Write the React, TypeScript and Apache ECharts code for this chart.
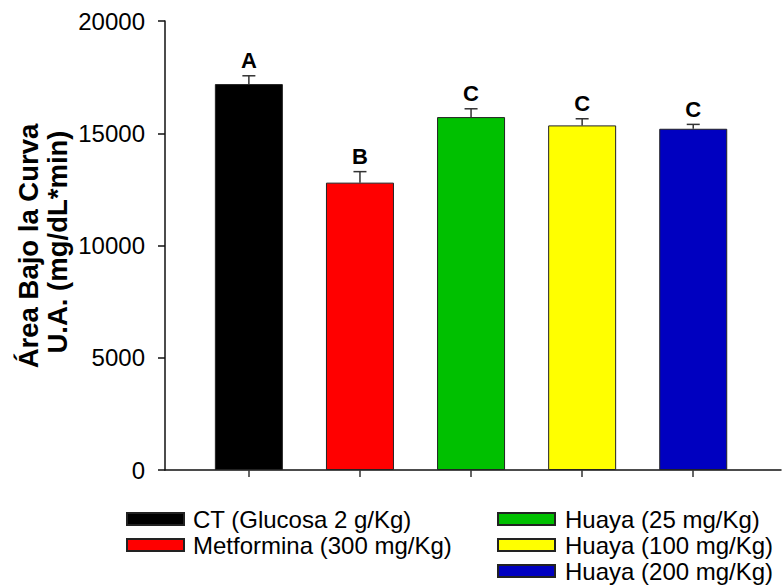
import React, { useEffect, useRef } from "react";
import * as echarts from "echarts";

const categories = [
  "CT (Glucosa 2 g/Kg)",
  "Metformina (300 mg/Kg)",
  "Huaya (25 mg/Kg)",
  "Huaya (100 mg/Kg)",
  "Huaya (200 mg/Kg)",
];
const positions = [1, 2, 3, 4, 5];
const means = [17190, 12800, 15720, 15350, 15200];
const errors = [370, 490, 370, 295, 195];
const letters = ["A", "B", "C", "C", "C"];
const colors = ["#000000", "#ff0000", "#00c000", "#ffff00", "#0000c0"];
const yTicks = [0, 5000, 10000, 15000, 20000];
const yTitle1 = "Área Bajo la Curva";
const yTitle2 = "U.A. (mg/dL*min)";

const FONT = "'Liberation Sans', Arial, Helvetica, sans-serif";

export default function App() {
  const ref = useRef<HTMLDivElement>(null);
  useEffect(() => {
    document.body.style.margin = "0";
    if (!ref.current) return;
    const chart = echarts.init(ref.current, null, { renderer: "svg" });

    const barSeries = categories.map((name, i) => ({
      name,
      type: "bar",
      data: [[positions[i], means[i]]],
      barWidth: 68,
      barGap: "-100%",
      itemStyle: { color: colors[i], borderColor: "#222", borderWidth: 1 },
      z: 2,
    }));

    const errSeries = {
      type: "custom",
      name: "err",
      data: positions.map((p, i) => [p, means[i], errors[i]]),
      z: 5,
      renderItem: (params: any, api: any) => {
        const x = api.value(0);
        const m = api.value(1);
        const e = api.value(2);
        const base = api.coord([x, m]);
        const top = api.coord([x, m + e]);
        const cap = 6.5;
        return {
          type: "group",
          children: [
            {
              type: "line",
              shape: { x1: base[0], y1: base[1], x2: top[0], y2: top[1] },
              style: { stroke: "#333", lineWidth: 1.5 },
            },
            {
              type: "line",
              shape: { x1: top[0] - cap, y1: top[1], x2: top[0] + cap, y2: top[1] },
              style: { stroke: "#333", lineWidth: 1.5 },
            },
            {
              type: "text",
              x: top[0],
              y: top[1] - 4,
              style: {
                text: letters[params.dataIndex],
                align: "center",
                verticalAlign: "bottom",
                fontFamily: FONT,
                fontWeight: "bold",
                fontSize: 22,
                fill: "#000",
              },
            },
          ],
        };
      },
    };

    const legendCommon = {
      orient: "vertical",
      itemWidth: 57,
      itemHeight: 12,
      itemGap: 2,
      padding: 0,
      icon: "rect",
      selectedMode: false,
    };

    chart.setOption({
      animation: false,
      backgroundColor: "#fff",
      grid: { left: 165, right: 2, top: 21, bottom: 116 },
      xAxis: {
        type: "value",
        min: 0.245,
        max: 5.79,
        axisLine: { show: true, lineStyle: { color: "#111", width: 1.5 } },
        axisTick: {
          show: true,
          length: 7,
          customValues: positions,
          lineStyle: { color: "#333", width: 1.5 },
        },
        axisLabel: { show: false },
        splitLine: { show: false },
      },
      yAxis: {
        type: "value",
        min: 0,
        max: 20000,
        interval: 5000,
        axisLine: { show: true, lineStyle: { color: "#111", width: 1.5 } },
        axisTick: { show: true, length: 7, lineStyle: { color: "#111", width: 1.5 } },
        axisLabel: {
          margin: 20,
          fontFamily: FONT,
          fontSize: 24,
          color: "#000",
          formatter: (v: number) => String(v),
        },
        splitLine: { show: false },
      },
      legend: [
        {
          ...legendCommon,
          data: categories.slice(0, 2),
          left: 126,
          top: 507,
          height: 79,
          textStyle: { fontFamily: FONT, fontSize: 24, color: "#000", padding: [0, 0, 0, 4] },
        },
        {
          ...legendCommon,
          data: categories.slice(2),
          left: 497,
          top: 507,
          height: 79,
          textStyle: { fontFamily: FONT, fontSize: 24, color: "#000", padding: [0, 0, 0, 5] },
        },
      ],
      graphic: [
        {
          type: "text",
          x: 28.5,
          y: 246,
          rotation: Math.PI / 2,
          style: {
            text: yTitle1,
            align: "center",
            verticalAlign: "middle",
            fontFamily: FONT,
            fontWeight: "bold",
            fontSize: 27.5,
            fill: "#000",
          },
        },
        {
          type: "text",
          x: 57.5,
          y: 242,
          rotation: Math.PI / 2,
          style: {
            text: yTitle2,
            align: "center",
            verticalAlign: "middle",
            fontFamily: FONT,
            fontWeight: "bold",
            fontSize: 27.5,
            fill: "#000",
          },
        },
      ],
      series: [...barSeries, errSeries],
    });
    return () => chart.dispose();
  }, []);
  return <div ref={ref} style={{ width: 783, height: 586 }} />;
}
